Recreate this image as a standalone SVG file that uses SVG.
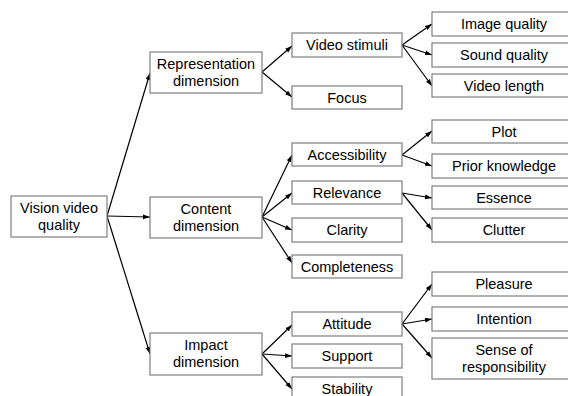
<svg xmlns="http://www.w3.org/2000/svg" width="568" height="396" viewBox="0 0 568 396">
<defs>
<marker id="ah" markerWidth="8" markerHeight="6" refX="7" refY="3" orient="auto" markerUnits="userSpaceOnUse">
<path d="M0,0.6 L7,3 L0,5.4 Z" fill="#000"/>
</marker>
<style>
.b{fill:#fff;stroke:#7f7f7f;stroke-width:1.2}
.t{font-family:"Liberation Sans",Arial,sans-serif;font-size:14.5px;fill:#000;text-anchor:middle}
.c{stroke:#000;stroke-width:1.2;fill:none;marker-end:url(#ah)}
</style>
</defs>
<rect width="568" height="396" fill="#fff"/>
<g id="connectors">
<line class="c" x1="107" y1="216" x2="150" y2="73"/>
<line class="c" x1="107" y1="216" x2="150" y2="217"/>
<line class="c" x1="107" y1="216" x2="150" y2="354"/>
<line class="c" x1="262" y1="72" x2="292" y2="46"/>
<line class="c" x1="262" y1="72" x2="292" y2="97"/>
<line class="c" x1="262" y1="217" x2="292" y2="155"/>
<line class="c" x1="262" y1="217" x2="292" y2="193"/>
<line class="c" x1="262" y1="217" x2="292" y2="230"/>
<line class="c" x1="262" y1="217" x2="292" y2="263"/>
<line class="c" x1="262" y1="354" x2="292" y2="325"/>
<line class="c" x1="262" y1="354" x2="292" y2="356"/>
<line class="c" x1="262" y1="354" x2="292" y2="389"/>
<line class="c" x1="402" y1="45" x2="432" y2="24"/>
<line class="c" x1="402" y1="45" x2="432" y2="55"/>
<line class="c" x1="402" y1="45" x2="432" y2="86"/>
<line class="c" x1="402" y1="155" x2="432" y2="131"/>
<line class="c" x1="402" y1="155" x2="432" y2="166"/>
<line class="c" x1="402" y1="193" x2="432" y2="198"/>
<line class="c" x1="402" y1="193" x2="432" y2="230"/>
<line class="c" x1="402" y1="324" x2="432" y2="284"/>
<line class="c" x1="402" y1="324" x2="432" y2="319"/>
<line class="c" x1="402" y1="324" x2="432" y2="358"/>
</g>
<g id="root"><rect class="b" x="11" y="196" width="96" height="41"/><text class="t" x="59" y="213">Vision video</text><text class="t" x="59" y="230">quality</text></g>
<g id="representation"><rect class="b" x="150" y="52" width="112" height="41"/><text class="t" x="206" y="69">Representation</text><text class="t" x="206" y="86">dimension</text></g>
<g id="content"><rect class="b" x="150" y="197" width="112" height="41"/><text class="t" x="206" y="214">Content</text><text class="t" x="206" y="231">dimension</text></g>
<g id="impact"><rect class="b" x="150" y="333" width="112" height="42"/><text class="t" x="206" y="350">Impact</text><text class="t" x="206" y="367">dimension</text></g>
<g id="video-stimuli"><rect class="b" x="292" y="33" width="110" height="24"/><text class="t" x="347" y="50">Video stimuli</text></g>
<g id="focus"><rect class="b" x="292" y="86" width="110" height="23"/><text class="t" x="347" y="103">Focus</text></g>
<g id="accessibility"><rect class="b" x="292" y="143" width="110" height="23"/><text class="t" x="347" y="160">Accessibility</text></g>
<g id="relevance"><rect class="b" x="292" y="181" width="110" height="23"/><text class="t" x="347" y="198">Relevance</text></g>
<g id="clarity"><rect class="b" x="292" y="218" width="110" height="24"/><text class="t" x="347" y="235">Clarity</text></g>
<g id="completeness"><rect class="b" x="292" y="255" width="110" height="23"/><text class="t" x="347" y="272">Completeness</text></g>
<g id="attitude"><rect class="b" x="292" y="312" width="110" height="24"/><text class="t" x="347" y="329">Attitude</text></g>
<g id="support"><rect class="b" x="292" y="344" width="110" height="24"/><text class="t" x="347" y="361">Support</text></g>
<g id="stability"><rect class="b" x="292" y="377" width="110" height="30"/><text class="t" x="347" y="394">Stability</text></g>
<g id="image-quality"><rect class="b" x="432" y="12" width="144" height="24"/><text class="t" x="504" y="29">Image quality</text></g>
<g id="sound-quality"><rect class="b" x="432" y="43" width="144" height="24"/><text class="t" x="504" y="60">Sound quality</text></g>
<g id="video-length"><rect class="b" x="432" y="74" width="144" height="23"/><text class="t" x="504" y="91">Video length</text></g>
<g id="plot"><rect class="b" x="432" y="120" width="144" height="23"/><text class="t" x="504" y="137">Plot</text></g>
<g id="prior-knowledge"><rect class="b" x="432" y="154" width="144" height="24"/><text class="t" x="504" y="171">Prior knowledge</text></g>
<g id="essence"><rect class="b" x="432" y="186" width="144" height="23"/><text class="t" x="504" y="203">Essence</text></g>
<g id="clutter"><rect class="b" x="432" y="218" width="144" height="24"/><text class="t" x="504" y="235">Clutter</text></g>
<g id="pleasure"><rect class="b" x="432" y="272" width="144" height="24"/><text class="t" x="504" y="289">Pleasure</text></g>
<g id="intention"><rect class="b" x="432" y="307" width="144" height="24"/><text class="t" x="504" y="324">Intention</text></g>
<g id="sense-of-responsibility"><rect class="b" x="432" y="338" width="144" height="41"/><text class="t" x="504" y="355">Sense of</text><text class="t" x="504" y="372">responsibility</text></g>
</svg>
